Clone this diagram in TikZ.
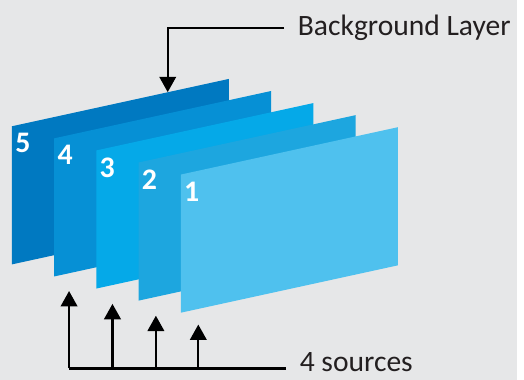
\documentclass[tikz,border=0pt]{standalone}
\usepackage{fontspec}
\setmainfont{Carlito}
\usepackage{tikz}
\usetikzlibrary{arrows.meta}

\definecolor{bggray}{HTML}{E6E7E8}
\definecolor{inkgray}{HTML}{231F20}
\definecolor{layerA}{HTML}{4FC1EE}
\definecolor{layerB}{HTML}{1DA6DF}
\definecolor{layerC}{HTML}{05A9E8}
\definecolor{layerD}{HTML}{0690D5}
\definecolor{layerE}{HTML}{0079C1}

\begin{document}
\begin{tikzpicture}[
  num/.style={anchor=north west, inner sep=0pt, text=white, font=\fontsize{21.5}{24}\selectfont\bfseries},
  lbl/.style={anchor=west, inner xsep=0.34cm, inner ysep=0pt, text=inkgray, font=\fontsize{21.3}{24}\selectfont},
  feed/.style={line width=1.6pt, -{Triangle[width=4.2mm,length=3.9mm]}}]
 \fill[bggray] (0,0) rectangle (13.1,9.625);
 % layers, back to front
 \fill[layerE] (0.3,6.425) -- ++(5.5,1.2) -- ++(0,-3.5) -- ++(-5.5,-1.2) -- cycle;
 \fill[layerD] (1.37,6.119) -- ++(5.5,1.2) -- ++(0,-3.5) -- ++(-5.5,-1.2) -- cycle;
 \fill[layerC] (2.44,5.813) -- ++(5.5,1.2) -- ++(0,-3.5) -- ++(-5.5,-1.2) -- cycle;
 \fill[layerB] (3.51,5.507) -- ++(5.5,1.2) -- ++(0,-3.5) -- ++(-5.5,-1.2) -- cycle;
 \fill[layerA] (4.58,5.201) -- ++(5.5,1.2) -- ++(0,-3.5) -- ++(-5.5,-1.2) -- cycle;
 \node[num] (n5) at (0.38,6.25) {5};
 \node[num] (n4) at (1.45,5.944) {4};
 \node[num] (n3) at (2.52,5.638) {3};
 \node[num] (n2) at (3.59,5.332) {2};
 \node[num] (n1) at (4.66,5.026) {1};
 % background layer pointer
 \node[lbl] (bglabel) at (7.2,8.925) {Background Layer};
 \coordinate (bgtip) at (4.25,7.29);
 \draw[feed] (bglabel.west) -| (bgtip);
 % source feeds
 \coordinate (hub) at (7.25,0.29);
 \node[lbl, yshift=0.15cm] (srclabel) at (hub) {4 sources};
 \coordinate (s4) at (1.75,2.25);
 \coordinate (s3) at (2.85,1.925);
 \coordinate (s2) at (3.95,1.625);
 \coordinate (s1) at (5.025,1.4);
 \draw[line width=1.6pt] (srclabel.west |- hub) -- (s4 |- hub);
 \draw[feed] (s4 |- hub) -- (s4);
 \draw[feed] (s3 |- hub) -- (s3);
 \draw[feed] (s2 |- hub) -- (s2);
 \draw[feed] (s1 |- hub) -- (s1);
\end{tikzpicture}
\end{document}
